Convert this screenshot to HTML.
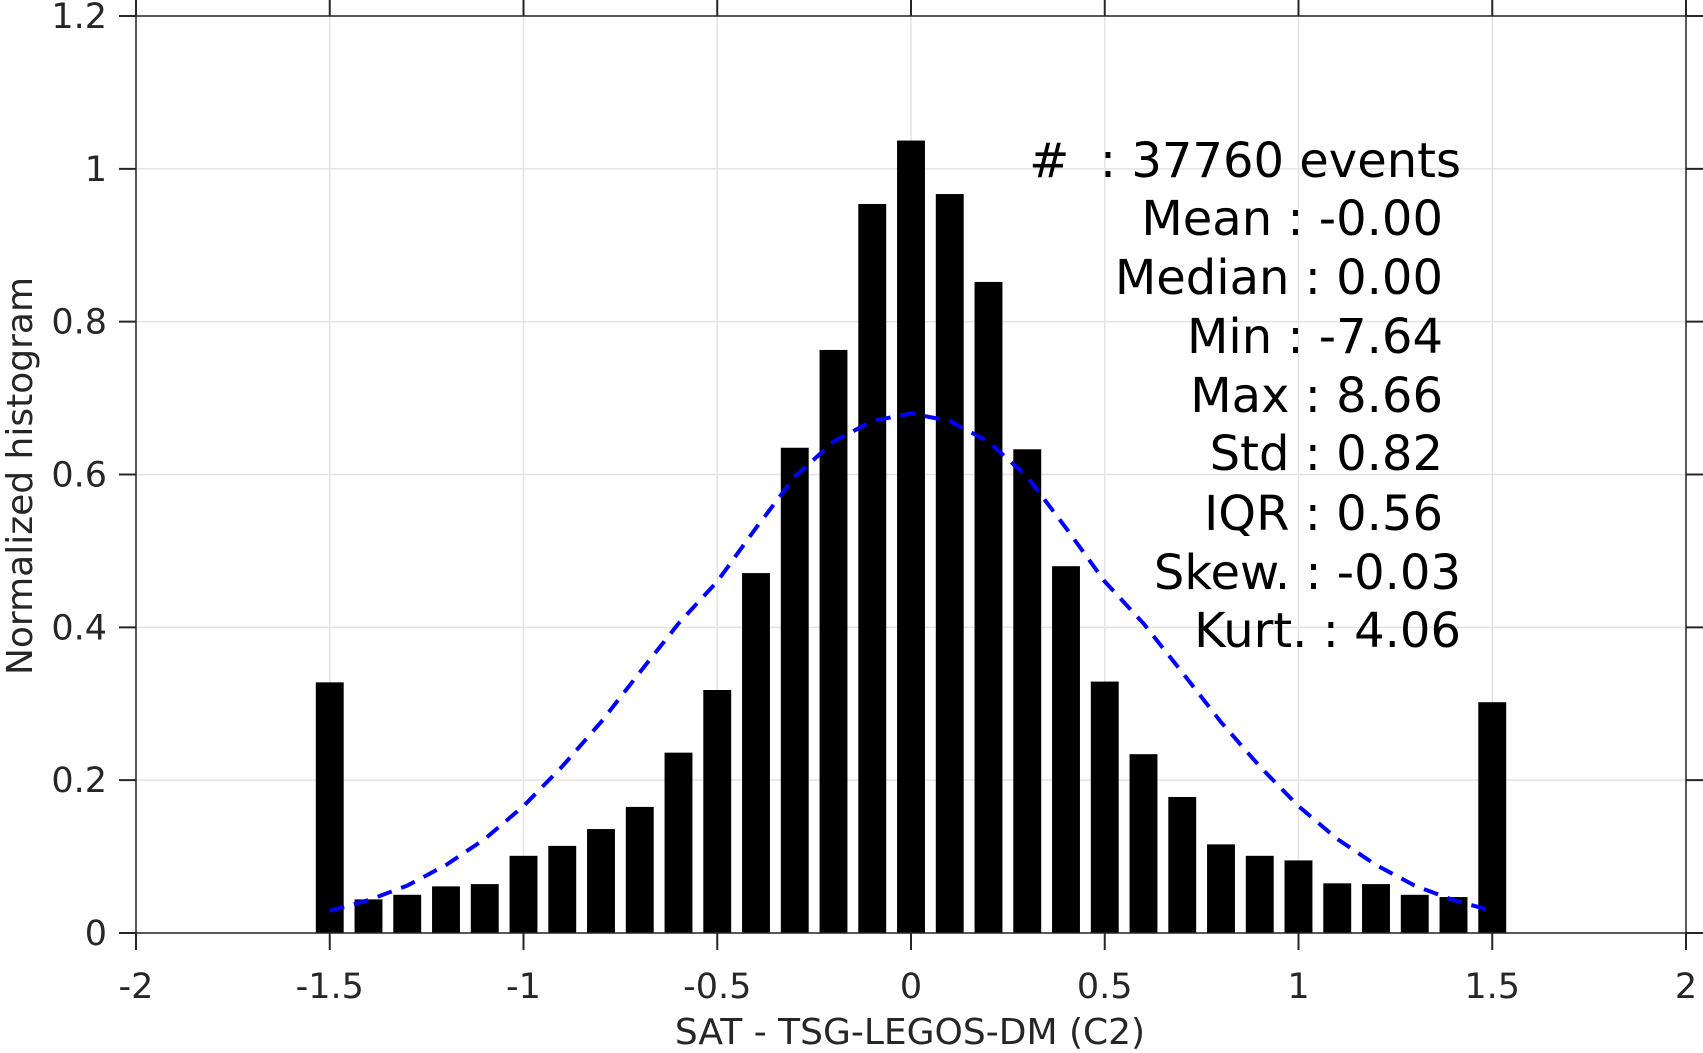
<!DOCTYPE html>
<html><head><meta charset="utf-8"><style>
html,body{margin:0;padding:0;background:#fff;}
svg{display:block;font-family:"DejaVu Sans","Liberation Sans",sans-serif;}
</style></head><body>
<svg id="chart" width="1703" height="1053" viewBox="0 0 1703 1053" xmlns="http://www.w3.org/2000/svg">
<g id="grid"></g>
<g id="bars"></g>
<polyline id="curve" fill="none" stroke="#0000ff" stroke-width="4" stroke-dasharray="15,10"/>
<g id="axes"></g>
<g id="stats" font-size="48" fill="#000" text-anchor="end">
<text x="1461" y="177" xml:space="preserve">#  : 37760 events</text>
<text x="1443" y="235">Mean : -0.00</text>
<text x="1443" y="294">Median : 0.00</text>
<text x="1443" y="353">Min : -7.64</text>
<text x="1443" y="412">Max : 8.66</text>
<text x="1443" y="470">Std : 0.82</text>
<text x="1443" y="530">IQR : 0.56</text>
<text x="1461" y="589">Skew. : -0.03</text>
<text x="1461" y="647">Kurt. : 4.06</text>
</g>
<text x="910" y="1044" font-size="36" fill="#262626" text-anchor="middle">SAT - TSG-LEGOS-DM (C2)</text>
<text transform="translate(32,476) rotate(-90)" font-size="36" fill="#262626" text-anchor="middle">Normalized histogram</text>
</svg>
<script>
const binCenters=[-1.5,-1.4,-1.3,-1.2,-1.1,-1.0,-0.9,-0.8,-0.7,-0.6,-0.5,-0.4,-0.3,-0.2,-0.1,0,0.1,0.2,0.3,0.4,0.5,0.6,0.7,0.8,0.9,1.0,1.1,1.2,1.3,1.4,1.5];
const binValues=[0.328,0.044,0.050,0.061,0.064,0.101,0.114,0.136,0.165,0.236,0.318,0.471,0.635,0.763,0.954,1.037,0.967,0.852,0.633,0.480,0.329,0.234,0.178,0.116,0.101,0.095,0.065,0.064,0.050,0.047,0.302];
const curveX=[-1.5,-1.4,-1.3,-1.2,-1.1,-1.0,-0.9,-0.8,-0.7,-0.6,-0.5,-0.4,-0.3,-0.2,-0.1,0,0.1,0.2,0.3,0.4,0.5,0.6,0.7,0.8,0.9,1.0,1.1,1.2,1.3,1.4,1.5];
const curveY=[0.029,0.043,0.062,0.089,0.123,0.166,0.218,0.276,0.341,0.405,0.460,0.530,0.597,0.643,0.670,0.680,0.670,0.643,0.597,0.530,0.460,0.405,0.341,0.276,0.218,0.166,0.123,0.089,0.062,0.043,0.029];
const xTicks=[-2,-1.5,-1,-0.5,0,0.5,1,1.5,2];
const xTickLabels=["-2","-1.5","-1","-0.5","0","0.5","1","1.5","2"];
const yTicks=[0,0.2,0.4,0.6,0.8,1,1.2];
const yTickLabels=["0","0.2","0.4","0.6","0.8","1","1.2"];
const barWidth=0.072;
const L=136,R=1686,T=16,B=933,x0=-2,x1=2,y0=0,y1=1.2;
const sx=v=>L+(v-x0)/(x1-x0)*(R-L);
const sy=v=>B-(v-y0)/(y1-y0)*(B-T);
const NS="http://www.w3.org/2000/svg";
function mk(tag,attrs,parent){const e=document.createElementNS(NS,tag);for(const k in attrs)e.setAttribute(k,attrs[k]);parent.appendChild(e);return e;}
const grid=document.getElementById('grid'),bars=document.getElementById('bars'),axes=document.getElementById('axes');
xTicks.forEach(t=>{const l=mk('line',{x1:sx(t),x2:sx(t),y1:T,y2:B,stroke:'#e3e3e3','stroke-width':1.5},grid);

});
yTicks.forEach(t=>{const l=mk('line',{x1:L,x2:R,y1:sy(t),y2:sy(t),stroke:'#e3e3e3','stroke-width':1.5},grid);

});
binCenters.forEach((c,i)=>{const r=mk('rect',{x:sx(c-barWidth/2),y:sy(binValues[i]),width:sx(c+barWidth/2)-sx(c-barWidth/2),height:sy(0)-sy(binValues[i]),fill:'#000'},bars);

});
document.getElementById('curve').setAttribute('points',curveX.map((x,i)=>sx(x)+','+sy(curveY[i])).join(' '));
const box=mk('rect',{x:L,y:T,width:R-L,height:B-T,fill:'none',stroke:'#262626','stroke-width':1.5},axes);


xTicks.forEach((t,i)=>{
 mk('line',{x1:sx(t),x2:sx(t),y1:B,y2:B+17,stroke:'#262626','stroke-width':2},axes);
 mk('line',{x1:sx(t),x2:sx(t),y1:T,y2:T-17,stroke:'#262626','stroke-width':2},axes);
 const tx=mk('text',{x:sx(t),y:998,'font-size':35,fill:'#262626','text-anchor':'middle'},axes);
 tx.textContent=xTickLabels[i];
 
 
});
yTicks.forEach((t,i)=>{
 mk('line',{x1:L,x2:L-17,y1:sy(t),y2:sy(t),stroke:'#262626','stroke-width':2},axes);
 mk('line',{x1:R,x2:R+17,y1:sy(t),y2:sy(t),stroke:'#262626','stroke-width':2},axes);
 const tx=mk('text',{x:107,y:sy(t)+12,'font-size':35,fill:'#262626','text-anchor':'end'},axes);
 tx.textContent=yTickLabels[i];
 
 
});
</script>
</body></html>
